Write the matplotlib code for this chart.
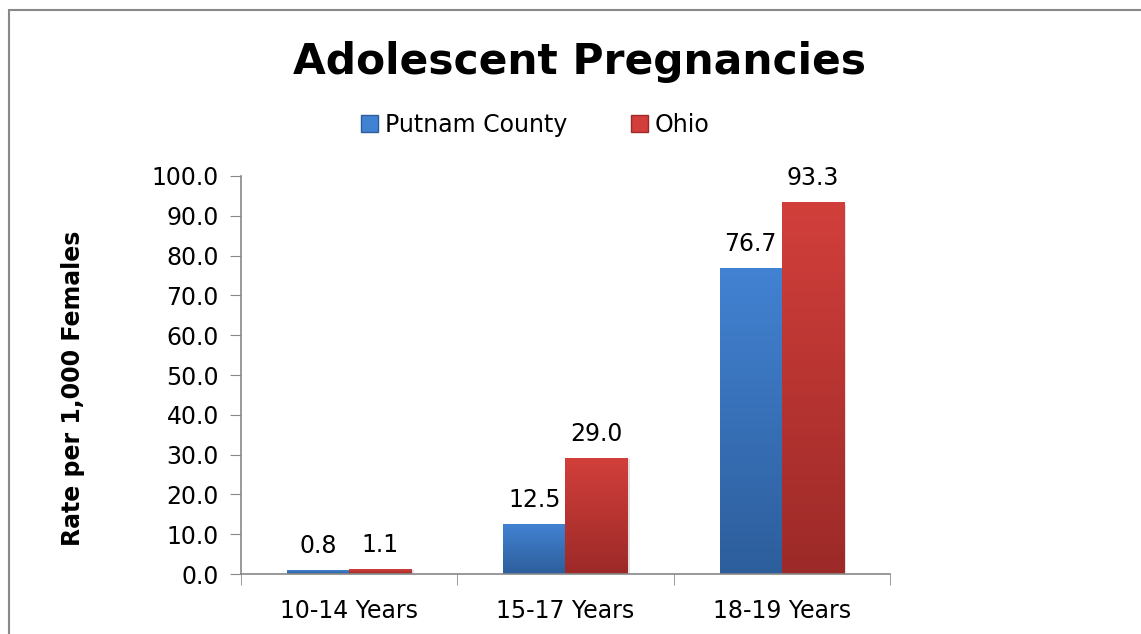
import matplotlib.pyplot as plt
import matplotlib.patches as mpatches
import numpy as np

categories = ["10-14 Years", "15-17 Years", "18-19 Years"]
putnam = [0.8, 12.5, 76.7]
ohio = [1.1, 29.0, 93.3]
series_names = ["Putnam County", "Ohio"]
yticks = np.arange(0, 101, 10)

blue_top, blue_bot = "#4282d2", "#2d5e9c"
red_top, red_bot = "#d23f3b", "#9c2a28"

fig = plt.figure(figsize=(11.41, 6.34), dpi=100)

# outer chart frame
frame = mpatches.Rectangle((9 / 1141, -0.05), 1.1, 1 - 10 / 634 + 0.05,
                           transform=fig.transFigure, fill=False,
                           edgecolor="#888888", linewidth=1.5)
fig.patches.append(frame)

ax = fig.add_axes([0.2112, 0.0946, 0.5688, 0.6278])

x = np.arange(len(categories))
w = 0.287


def gradient_bars(xs, vals, top, bot):
    bars = ax.bar(xs, vals, width=w, color="none", edgecolor="none")
    cmap = plt.matplotlib.colors.LinearSegmentedColormap.from_list("g", [bot, top])
    grad = np.linspace(0, 1, 256).reshape(-1, 1)
    for b in bars:
        x0, y0 = b.get_x(), b.get_y()
        bw, bh = b.get_width(), b.get_height()
        # soft shadow on the right
        ax.add_patch(mpatches.Rectangle((x0 + 0.012, y0), bw, bh * 0.995,
                                        color="#000000", alpha=0.12, zorder=1,
                                        linewidth=0))
        ax.imshow(grad, extent=(x0, x0 + bw, y0, y0 + bh), origin="lower",
                  cmap=cmap, aspect="auto", zorder=2)
    return bars


gradient_bars(x - w / 2, putnam, blue_top, blue_bot)
gradient_bars(x + w / 2, ohio, red_top, red_bot)

for xi, v in zip(x - w / 2, putnam):
    ax.text(xi, v + 3.2, f"{v:.1f}", ha="center", va="bottom", fontsize=17)
for xi, v in zip(x + w / 2, ohio):
    ax.text(xi, v + 3.2, f"{v:.1f}", ha="center", va="bottom", fontsize=17)

ax.set_xlim(-0.5, len(categories) - 0.5)
ax.set_ylim(0, 100)
ax.set_yticks(yticks)
ax.set_yticklabels([f"{t:.1f}" for t in yticks], fontsize=17)
ax.set_xticks(x)
ax.set_xticklabels(categories, fontsize=17)
ax.tick_params(axis="x", length=0, pad=18)
ax.set_xticks(np.arange(-0.5, len(categories), 1.0), minor=True)
ax.tick_params(axis="x", which="minor", length=8, color="#888888", direction="out")
ax.tick_params(axis="y", length=8, color="#888888", direction="out", pad=8)

for s in ["top", "right"]:
    ax.spines[s].set_visible(False)
for s in ["left", "bottom"]:
    ax.spines[s].set_color("#888888")
    ax.spines[s].set_linewidth(1.2)

ax.set_ylabel("Rate per 1,000 Females", fontweight="bold", fontsize=17)
ax.yaxis.set_label_coords(-0.241, 0.467)

fig.text(0.508, 0.902, "Adolescent Pregnancies", ha="center", va="center",
         fontsize=30.5, fontweight="bold")

handles = [mpatches.Patch(facecolor=blue_top, edgecolor=blue_bot),
           mpatches.Patch(facecolor=red_top, edgecolor=red_bot)]
fig.legend(handles, series_names, loc="center", bbox_to_anchor=(0.4694, 0.803),
           ncol=2, frameon=False, fontsize=17, handlelength=0.7,
           handleheight=0.7, handletextpad=0.3, columnspacing=2.71)

fig.savefig("out.png", dpi=100)
